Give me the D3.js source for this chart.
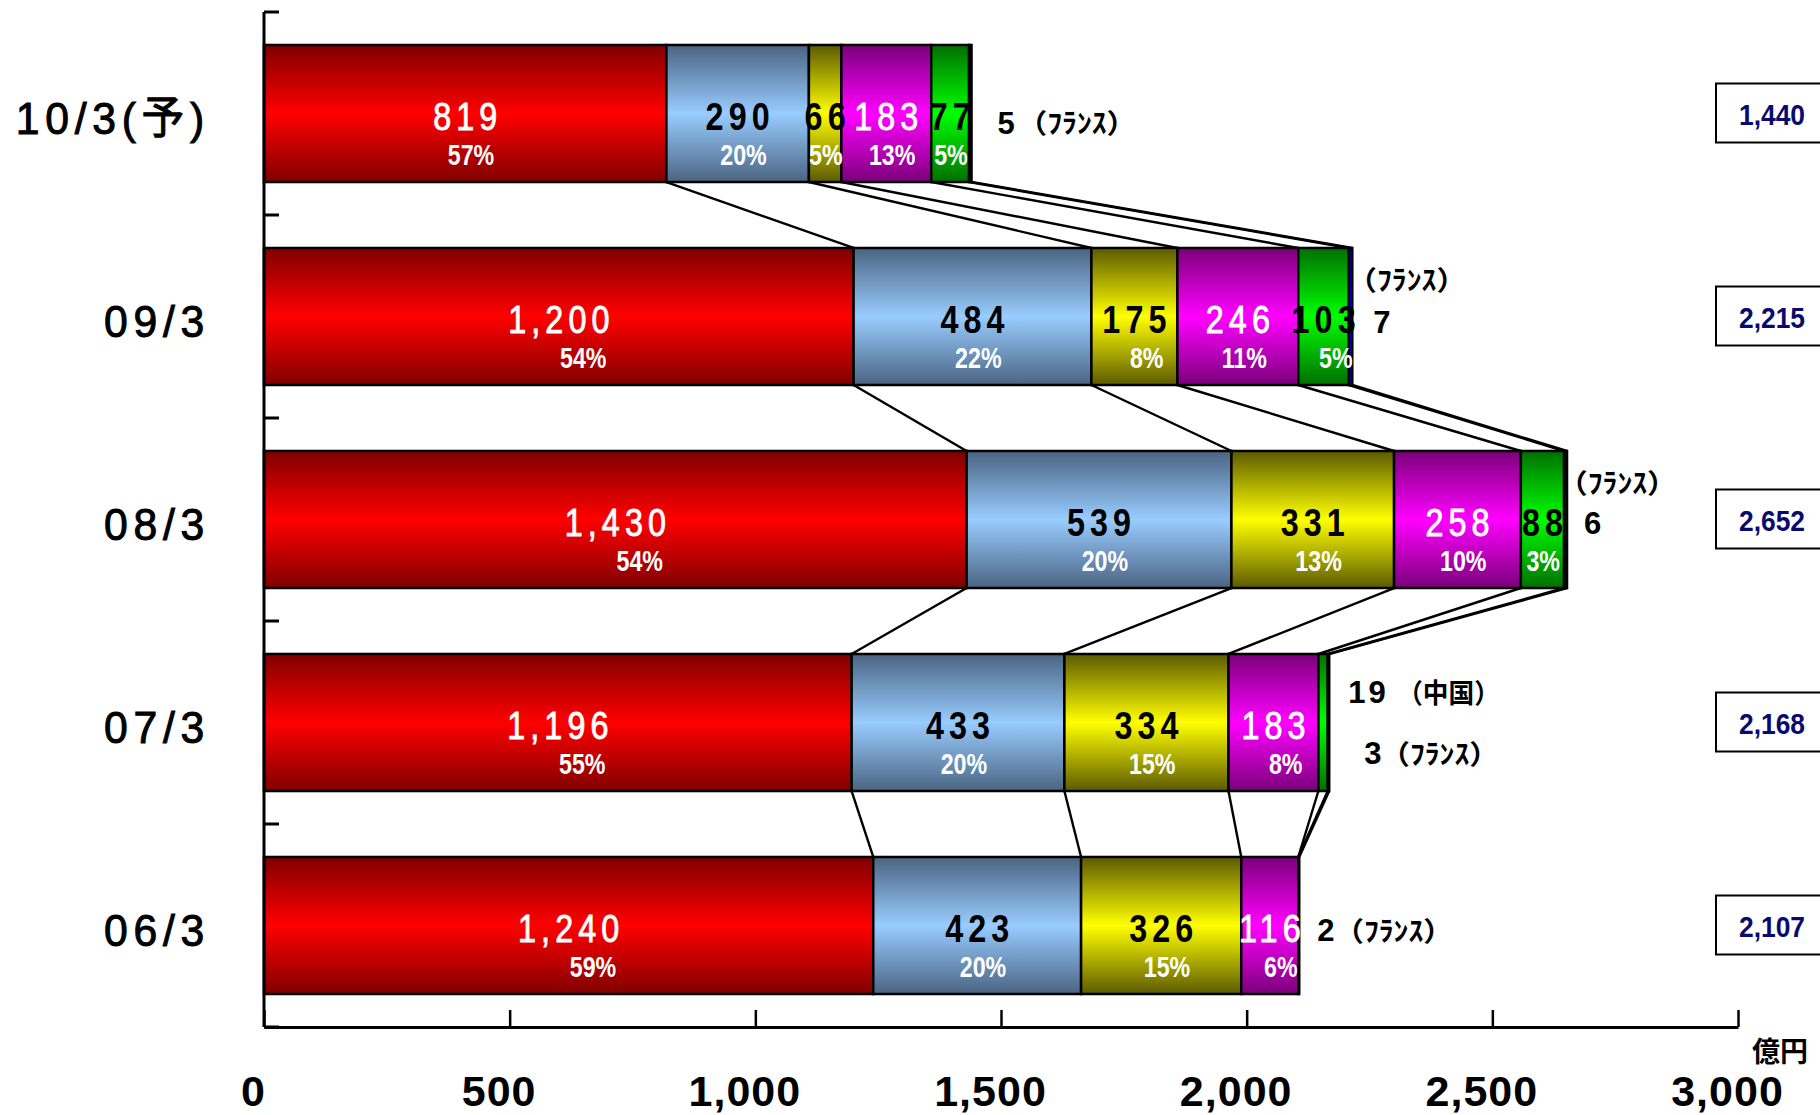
<!DOCTYPE html>
<html>
<head>
<meta charset="utf-8">
<script src="https://cdn.jsdelivr.net/npm/d3@7"></script>
<style>
body { margin: 0; background: #fff; }
</style>
</head>
<body>
<div id="chart"></div>
<script>
// data (億円)
var categories = ["10/3(予)", "09/3", "08/3", "07/3", "06/3"];
var seriesRed = [819, 1200, 1430, 1196, 1240];
var seriesBlue = [290, 484, 539, 433, 423];
var seriesYellow = [66, 175, 331, 334, 326];
var seriesMagenta = [183, 246, 258, 183, 116];
var seriesChina = [77, 103, 88, 19, 0];
var seriesFrance = [5, 7, 6, 3, 2];
var pctRed = [57, 54, 54, 55, 59];
var pctBlue = [20, 22, 20, 20, 20];
var pctYellow = [5, 8, 13, 15, 15];
var pctMagenta = [13, 11, 10, 8, 6];
var pctChina = [5, 5, 3, null, null];
var totals = [1440, 2215, 2652, 2168, 2107];
var xTicks = [0, 500, 1000, 1500, 2000, 2500, 3000];

var SANS = "'Liberation Sans', Arial, 'Noto Sans CJK JP', sans-serif";
var JP = "'Noto Sans CJK JP', sans-serif";

var series = [
    {id: "red", values: seriesRed, pct: pctRed, dark: "#800000", light: "#ff0000", txt: "#fff"},
    {id: "blue", values: seriesBlue, pct: pctBlue, dark: "#4a6482", light: "#99ccff", txt: "#000"},
    {id: "yellow", values: seriesYellow, pct: pctYellow, dark: "#5c5a00", light: "#ffff00", txt: "#000"},
    {id: "magenta", values: seriesMagenta, pct: pctMagenta, dark: "#7a007a", light: "#ff00ff", txt: "#fff"},
    {id: "china", values: seriesChina, pct: pctChina, dark: "#007000", light: "#00ff00", txt: "#000"},
    {id: "france", values: seriesFrance, pct: null, dark: "#000080", light: "#0000ff", txt: "#000"}
];

var W = 1820, H = 1115;
var svg = d3.select("#chart").append("svg")
    .attr("width", W)
    .attr("height", H);

var x = d3.scaleLinear().domain([0, 3000]).range([264, 1738]);
var y = d3.scaleBand().domain(categories).range([12, 1027])
    .paddingInner(0.325).paddingOuter(0.1625);
var bw = y.bandwidth();

// text helper, sx squeezes the glyphs horizontally
function label(px, py, s, o) {
    var t = svg.append("text")
        .attr("transform", "translate(" + px + "," + py + ") scale(" + (o.sx || 1) + ",1)")
        .style("font-family", o.font || SANS)
        .style("font-weight", o.weight || "normal")
        .style("font-size", o.size + "px")
        .style("letter-spacing", (o.ls || 0) + "px")
        .style("text-anchor", o.anchor || "start")
        .style("fill", o.fill || "#000")
        .text(s);
    if (o.stroke) t.style("stroke", o.fill || "#000").style("stroke-width", o.stroke);
    return t;
}

// vertical gradients, dark at the edges
var defs = svg.append("defs");
series.forEach(function(s) {
    var g = defs.append("linearGradient").attr("id", "g_" + s.id)
        .attr("x1", 0).attr("y1", 0).attr("x2", 0).attr("y2", 1);
    g.append("stop").attr("offset", "0%").attr("stop-color", s.dark);
    g.append("stop").attr("offset", "50%").attr("stop-color", s.light);
    g.append("stop").attr("offset", "100%").attr("stop-color", s.dark);
});

// cumulative edges per row
var cums = categories.map(function(c, i) {
    var cum = [0];
    series.forEach(function(s) { cum.push(cum[cum.length - 1] + s.values[i]); });
    return cum;
});

// connector lines between bars
for (var i = 0; i < categories.length - 1; i++) {
    for (var k = 1; k <= series.length; k++) {
        svg.append("line")
            .attr("x1", x(cums[i][k])).attr("y1", y(categories[i]) + bw)
            .attr("x2", x(cums[i + 1][k])).attr("y2", y(categories[i + 1]))
            .style("stroke", "#000").style("stroke-width", 2.4);
    }
}

// bars
series.forEach(function(s, k) {
    categories.forEach(function(c, i) {
        if (!s.values[i]) return;
        svg.append("rect")
            .attr("x", x(cums[i][k]))
            .attr("y", y(c))
            .attr("width", x(cums[i][k + 1]) - x(cums[i][k]))
            .attr("height", bw)
            .style("fill", "url(#g_" + s.id + ")")
            .style("stroke", "#000")
            .style("stroke-width", 2.5);
    });
});

// labels inside the bars
series.forEach(function(s, k) {
    if (!s.pct) return;
    categories.forEach(function(c, i) {
        if (s.pct[i] == null) return;
        var cx = (x(cums[i][k]) + x(cums[i][k + 1])) / 2;
        var cy = y(c) + bw / 2;
        var sx = 0.85, ls = 6;
        var dark = s.txt == "#000";
        var t = label(cx + ls * sx / 2, cy + 16, d3.format(",")(s.values[i]), {
            size: 38, sx: sx, ls: ls, anchor: "middle", fill: s.txt,
            weight: dark ? "bold" : "normal", stroke: dark ? 0 : 0.9
        });
        var len = t.node().getComputedTextLength() * sx;
        var right = cx + ls * sx / 2 + len / 2 - ls * sx;
        label(right - 3, cy + 51, s.pct[i] + "%", {
            size: 29, sx: 0.8, weight: "bold", anchor: "end", fill: "#fff"
        });
    });
});

// labels outside the bars: [row, value, name, dx number, dy number, dx name, dy name, squeeze]
var notes = [
    [0, seriesFrance[0], "（ﾌﾗﾝｽ）", 26, 20, 46, 19, 1.1],
    [1, seriesFrance[1], "（ﾌﾗﾝｽ）", 21, 16, -5, -27, 1.1],
    [2, seriesFrance[2], "（ﾌﾗﾝｽ）", 17, 14, -9, -27, 1.1],
    [3, seriesChina[3], "（中国）", 19, -20, 68, -20, 0.95],
    [3, seriesFrance[3], "（ﾌﾗﾝｽ）", 35, 41, 51, 41, 1.1],
    [4, seriesFrance[4], "（ﾌﾗﾝｽ）", 18, 15, 35, 15, 1.1]
];
notes.forEach(function(n) {
    var xt = x(totals[n[0]]);
    var cy = y(categories[n[0]]) + bw / 2;
    label(xt + n[3], cy + n[4], n[1], {size: 31, weight: "bold", ls: String(n[1]).length > 1 ? 3 : 0});
    label(xt + n[5], cy + n[6], n[2], {size: 27, sx: n[7], weight: "bold", font: JP});
});

// totals in boxes on the right
categories.forEach(function(c, i) {
    var cy = y(c) + bw / 2;
    svg.append("rect")
        .attr("x", 1716).attr("y", cy - 30)
        .attr("width", 130).attr("height", 59)
        .style("fill", "#fff").style("stroke", "#000").style("stroke-width", 2);
    label(1772, cy + 11, d3.format(",")(totals[i]), {
        size: 30, sx: 0.88, weight: "bold", anchor: "middle", fill: "#0a0a6e"
    });
});

// category axis
var step = y.step();
svg.append("line")
    .attr("x1", x(0)).attr("y1", 12).attr("x2", x(0)).attr("y2", 1027)
    .style("stroke", "#000").style("stroke-width", 3);
categories.concat([null]).forEach(function(c) {
    var ty = c ? y(c) - step * 0.1625 : 1027;
    svg.append("line")
        .attr("x1", x(0)).attr("y1", ty).attr("x2", x(0) + 15).attr("y2", ty)
        .style("stroke", "#000").style("stroke-width", 3);
});
categories.forEach(function(c) {
    label(210, y(c) + bw / 2 + 20, c, {size: 45, sx: 0.95, ls: 6, anchor: "end", stroke: 1});
});

// value axis
var xAxis = svg.append("g")
    .attr("transform", "translate(0,1027)")
    .call(d3.axisBottom(x).tickValues(xTicks).tickFormat(d3.format(","))
        .tickSizeInner(-17).tickSizeOuter(0).tickPadding(48));
xAxis.select(".domain").style("stroke-width", 3);
xAxis.selectAll(".tick line").style("stroke-width", 2.5);
xAxis.selectAll(".tick text")
    .attr("dx", -11)
    .style("font-family", SANS).style("font-weight", "bold")
    .style("font-size", "43px").style("letter-spacing", "1px")
    .style("fill", "#000");

label(1752, 1062, "億円", {size: 28, weight: "bold", font: JP});
</script>
</body>
</html>
